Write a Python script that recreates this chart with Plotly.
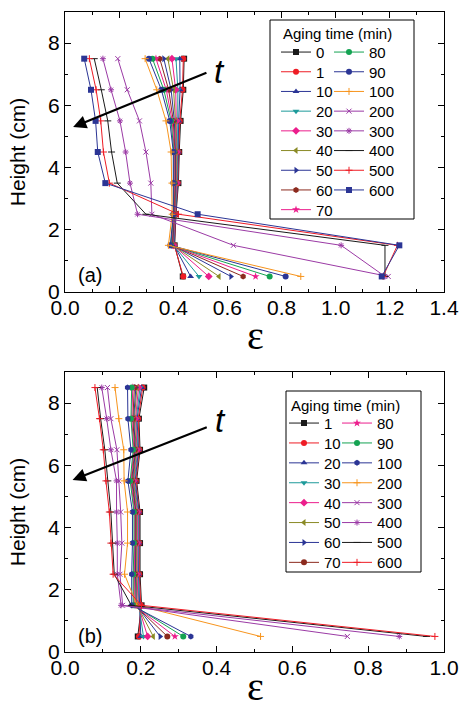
import plotly.graph_objects as go

# ---------------- data ----------------
heights_a = [0.5, 1.5, 2.5, 3.5, 4.5, 5.5, 6.5, 7.5]
heights_b = [0.5, 1.5, 2.5, 3.5, 4.5, 5.5, 6.5, 7.5, 8.5]

times_a = ["0", "1", "10", "20", "30", "40", "50", "60", "70", "80", "90",
           "100", "200", "300", "400", "500", "600"]
times_b = ["1", "10", "20", "30", "40", "50", "60", "70", "80", "90",
           "100", "200", "300", "400", "500", "600"]

a_0   = [0.435, 0.405, 0.410, 0.419, 0.422, 0.427, 0.437, 0.440]
a_1   = [0.437, 0.404, 0.409, 0.417, 0.420, 0.424, 0.434, 0.437]
a_10  = [0.464, 0.403, 0.408, 0.416, 0.418, 0.420, 0.425, 0.424]
a_20  = [0.495, 0.401, 0.407, 0.414, 0.416, 0.416, 0.417, 0.410]
a_30  = [0.531, 0.400, 0.406, 0.412, 0.413, 0.412, 0.409, 0.395]
a_40  = [0.569, 0.398, 0.405, 0.410, 0.411, 0.408, 0.401, 0.380]
a_50  = [0.613, 0.397, 0.404, 0.408, 0.408, 0.404, 0.392, 0.365]
a_60  = [0.658, 0.395, 0.403, 0.406, 0.406, 0.400, 0.383, 0.350]
a_70  = [0.704, 0.393, 0.402, 0.404, 0.404, 0.396, 0.374, 0.336]
a_80  = [0.756, 0.391, 0.401, 0.402, 0.402, 0.392, 0.365, 0.323]
a_90  = [0.815, 0.389, 0.400, 0.400, 0.400, 0.387, 0.356, 0.310]
a_100 = [0.871, 0.382, 0.396, 0.395, 0.392, 0.373, 0.339, 0.296]
a_200 = [1.194, 0.622, 0.321, 0.317, 0.299, 0.275, 0.230, 0.195]
a_300 = [1.182, 1.020, 0.268, 0.240, 0.224, 0.203, 0.170, 0.140]
a_400 = [1.182, 1.182, 0.299, 0.193, 0.172, 0.158, 0.134, 0.108]
a_500 = [1.175, 1.228, 0.419, 0.164, 0.142, 0.132, 0.115, 0.090]
a_600 = [1.170, 1.235, 0.490, 0.149, 0.121, 0.113, 0.096, 0.071]

b_1   = [0.192, 0.202, 0.198, 0.198, 0.198, 0.189, 0.198, 0.195, 0.209]
b_10  = [0.195, 0.200, 0.196, 0.196, 0.196, 0.187, 0.196, 0.193, 0.205]
b_20  = [0.200, 0.198, 0.194, 0.195, 0.195, 0.185, 0.194, 0.190, 0.202]
b_30  = [0.207, 0.195, 0.192, 0.193, 0.193, 0.183, 0.192, 0.188, 0.198]
b_40  = [0.218, 0.193, 0.190, 0.191, 0.191, 0.181, 0.190, 0.186, 0.194]
b_50  = [0.233, 0.190, 0.188, 0.189, 0.189, 0.180, 0.188, 0.183, 0.190]
b_60  = [0.251, 0.188, 0.186, 0.187, 0.187, 0.178, 0.186, 0.181, 0.187]
b_70  = [0.270, 0.185, 0.184, 0.186, 0.186, 0.176, 0.184, 0.179, 0.183]
b_80  = [0.290, 0.182, 0.182, 0.184, 0.184, 0.174, 0.182, 0.176, 0.179]
b_90  = [0.312, 0.180, 0.180, 0.182, 0.182, 0.172, 0.180, 0.174, 0.176]
b_100 = [0.332, 0.176, 0.176, 0.178, 0.178, 0.166, 0.174, 0.166, 0.165]
b_200 = [0.516, 0.190, 0.157, 0.165, 0.165, 0.156, 0.155, 0.142, 0.132]
b_300 = [0.745, 0.152, 0.145, 0.150, 0.147, 0.142, 0.137, 0.121, 0.112]
b_400 = [0.882, 0.148, 0.138, 0.138, 0.136, 0.136, 0.121, 0.110, 0.097]
b_500 = [0.954, 0.175, 0.130, 0.126, 0.121, 0.113, 0.105, 0.094, 0.085]
b_600 = [0.976, 0.202, 0.127, 0.121, 0.117, 0.108, 0.101, 0.091, 0.079]

series_a = [a_0, a_1, a_10, a_20, a_30, a_40, a_50, a_60, a_70, a_80, a_90,
            a_100, a_200, a_300, a_400, a_500, a_600]
series_b = [b_1, b_10, b_20, b_30, b_40, b_50, b_60, b_70, b_80, b_90,
            b_100, b_200, b_300, b_400, b_500, b_600]

# ---------------- styles ----------------
BLACK = "#1a1a1a"; RED = "#ee1c25"; NAVY = "#2b3595"; TEAL = "#1d9a9a"
PINK = "#ec1e8c"; OLIVE = "#8a8a25"; BROWN = "#8c2a1e"; GREEN = "#14a352"
ORANGE = "#f7941d"; PURPLE = "#9b3aa5"

style_a = [
    (BLACK, "square"), (RED, "circle"), (NAVY, "triangle-up"),
    (TEAL, "triangle-down"), (PINK, "diamond"), (OLIVE, "triangle-left"),
    (NAVY, "triangle-right"), (BROWN, "hexagon"), (PINK, "star"),
    (GREEN, "circle"), (NAVY, "circle"), (ORANGE, "cross-thin"),
    (PURPLE, "x-thin"), (PURPLE, "asterisk"), (BLACK, "line-ew"),
    (RED, "cross-thin"), (NAVY, "square"),
]
style_b = [
    (BLACK, "square"), (RED, "circle"), (NAVY, "triangle-up"),
    (TEAL, "triangle-down"), (PINK, "diamond"), (OLIVE, "triangle-left"),
    (NAVY, "triangle-right"), (BROWN, "circle"), (PINK, "star"),
    (GREEN, "circle"), (NAVY, "hexagon"), (ORANGE, "cross-thin"),
    (PURPLE, "x-thin"), (PURPLE, "asterisk"), (BLACK, "line-ew"),
    (RED, "cross-thin"),
]

FONT = "Liberation Sans, Arial, sans-serif"
W, H = 461, 701
ML, MR, MT, MB = 65, 17, 12, 49
PW = W - ML - MR
PH = H - MT - MB


def xp(px):
    return (px - ML) / PW


def yp(py):
    return (H - MB - py) / PH


fig = go.Figure()
legend_layouts = {}
lid = 0


def add_series(times, series, heights, styles, xa, ya, ncol1, col_x, row_y0, row_dy):
    global lid
    for i, (lab, vals, (col, sym)) in enumerate(zip(times, series, styles)):
        lid += 1
        name = "legend" if lid == 1 else f"legend{lid}"
        thin = sym in ("cross-thin", "x-thin", "asterisk", "line-ew")
        fig.add_trace(go.Scatter(
            x=vals, y=heights, name=lab, mode="lines+markers",
            xaxis=xa, yaxis=ya, legend=name,
            line=dict(color=col, width=1),
            marker=dict(symbol=sym, size=5 if thin else 6, color=col,
                        line=dict(color=col, width=1 if thin else 0)),
        ))
        c = 0 if i < ncol1 else 1
        r = i if i < ncol1 else i - ncol1
        legend_layouts[name] = dict(
            x=xp(col_x[c]), y=yp(row_y0 + r * row_dy),
            xanchor="left", yanchor="middle", bgcolor="rgba(0,0,0,0)",
            borderwidth=0, font=dict(family=FONT, size=15, color="black"),
            tracegroupgap=0, itemwidth=30,
        )


add_series(times_a, series_a, heights_a, style_a, "x", "y", 9,
           (276, 329), 52.3, 19.7)
add_series(times_b, series_b, heights_b, style_b, "x2", "y2", 8,
           (284, 337), 423.3, 19.9)

axis_common = dict(
    showline=True, linecolor="black", linewidth=1, mirror="ticks",
    ticks="inside", ticklen=6, tickwidth=1, tickcolor="black",
    showgrid=False, zeroline=False, automargin=False,
    tickfont=dict(family=FONT, size=21, color="black"),
)
EPS_FONT = dict(family="Liberation Serif, serif", size=40, color="black")
HT_FONT = dict(family=FONT, size=21, color="black")

fig.update_layout(
    width=W, height=H, margin=dict(l=ML, r=MR, t=MT, b=MB),
    paper_bgcolor="white", plot_bgcolor="white", showlegend=True,
    xaxis=dict(axis_common, range=[0, 1.4], dtick=0.2, tick0=0, tickformat=".1f",
               minor=dict(dtick=0.1, ticks="inside", ticklen=3, tickcolor="black"),
               anchor="y", domain=[0, 1], ticklabelstandoff=-3),
    yaxis=dict(axis_common, range=[0, 9], dtick=2, tick0=0,
               minor=dict(dtick=1, ticks="inside", ticklen=3, tickcolor="black"),
               anchor="x", domain=[yp(292), 1],
               title=dict(text="Height (cm)", font=HT_FONT, standoff=16)),
    xaxis2=dict(axis_common, range=[0, 1.0], dtick=0.2, tick0=0, tickformat=".1f",
                minor=dict(dtick=0.1, ticks="inside", ticklen=3, tickcolor="black"),
                anchor="y2", domain=[0, 1], ticklabelstandoff=-3),
    yaxis2=dict(axis_common, range=[0, 9], dtick=2, tick0=0,
                minor=dict(dtick=1, ticks="inside", ticklen=3, tickcolor="black"),
                anchor="x2", domain=[0, yp(372)],
                title=dict(text="Height (cm)", font=HT_FONT, standoff=16)),
    **legend_layouts,
)

# x-axis titles (epsilon)
for ty in (335, 686):
    fig.add_annotation(text="ε", xref="paper", yref="paper", x=xp(255), y=yp(ty),
                       xanchor="center", yanchor="middle", showarrow=False,
                       font=EPS_FONT)

# legend frames and titles
for (x0, x1, y0, y1, tx, ty) in [(270, 414, 20, 219, 281, 33), (286, 421, 391, 572, 289, 405)]:
    fig.add_shape(type="rect", xref="paper", yref="paper",
                  x0=xp(x0), x1=xp(x1), y0=yp(y1), y1=yp(y0),
                  line=dict(color="black", width=1), fillcolor="white", layer="above")
    fig.add_annotation(text="Aging time (min)", xref="paper", yref="paper",
                       x=xp(tx), y=yp(ty), xanchor="left", yanchor="middle",
                       showarrow=False, font=dict(family=FONT, size=15, color="black"))

# arrows and labels
fig.add_annotation(x=0.03, y=5.30, ax=0.528, ay=7.07, xref="x", yref="y",
                   axref="x", ayref="y", text="", showarrow=True, arrowhead=2,
                   arrowsize=1.2, arrowwidth=2.2, arrowcolor="black")
fig.add_annotation(x=0.572, y=7.1, xref="x", yref="y", text="<i>t</i>",
                   showarrow=False, xanchor="center", yanchor="middle",
                   font=dict(family=FONT, size=33, color="black"))
fig.add_annotation(x=0.02, y=5.53, ax=0.378, ay=7.24, xref="x2", yref="y2",
                   axref="x2", ayref="y2", text="", showarrow=True, arrowhead=2,
                   arrowsize=1.2, arrowwidth=2.2, arrowcolor="black")
fig.add_annotation(x=0.41, y=7.45, xref="x2", yref="y2", text="<i>t</i>",
                   showarrow=False, xanchor="center", yanchor="middle",
                   font=dict(family=FONT, size=33, color="black"))
fig.add_annotation(x=0.092, y=0.55, xref="x", yref="y", text="(a)",
                   showarrow=False, xanchor="center", yanchor="middle",
                   font=dict(family=FONT, size=20, color="black"))
fig.add_annotation(x=0.066, y=0.51, xref="x2", yref="y2", text="(b)",
                   showarrow=False, xanchor="center", yanchor="middle",
                   font=dict(family=FONT, size=20, color="black"))

fig.write_html("out.html", config={"displayModeBar": False},
               post_script="document.body.style.margin='0px';document.body.style.overflow='hidden';")
